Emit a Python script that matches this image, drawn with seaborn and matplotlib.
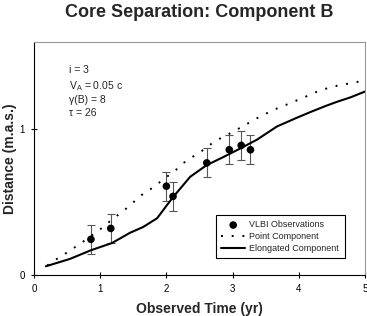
import numpy as np
import pandas as pd
import matplotlib
matplotlib.use('Agg')
import matplotlib.pyplot as plt
import seaborn as sns

# observations (yr, m.a.s.)
obs_time = [0.86, 1.16, 2.00, 2.10, 2.61, 2.95, 3.13, 3.27]
obs_dist = [0.245, 0.32, 0.61, 0.54, 0.77, 0.86, 0.89, 0.86]
obs_err = [0.1, 0.1, 0.1, 0.1, 0.1, 0.1, 0.1, 0.1]

# point component model
point_time = [0.2, 0.29, 0.42, 0.53, 0.65, 0.76, 0.99, 1.23, 1.34, 1.45, 1.68, 1.80,
              1.92, 2.14, 2.26, 2.39, 2.50, 2.72, 2.84, 2.95, 3.07, 3.42, 3.65, 3.87,
              4.13, 4.33, 4.58, 4.93, 5.0]
point_dist = [0.065, 0.096, 0.13, 0.165, 0.20, 0.235, 0.31, 0.40, 0.435, 0.48, 0.57, 0.60,
              0.645, 0.72, 0.77, 0.81, 0.84, 0.915, 0.945, 0.97, 1.0, 1.09, 1.14, 1.18,
              1.23, 1.27, 1.30, 1.33, 1.35]

# elongated component model
elong_time = [0.18, 0.54, 0.86, 1.18, 1.45, 1.65, 1.86, 2.0, 2.11, 2.36, 2.61, 2.86,
              3.12, 3.37, 3.67, 3.97, 4.18, 4.40, 4.58, 4.78, 5.0]
elong_dist = [0.06, 0.11, 0.17, 0.22, 0.29, 0.33, 0.39, 0.475, 0.54, 0.675, 0.755, 0.81,
              0.87, 0.93, 1.02, 1.08, 1.12, 1.16, 1.19, 1.22, 1.26]

sns.set_style('white')
plt.rcParams['font.family'] = ['Liberation Sans', 'DejaVu Sans']

fig = plt.figure(figsize=(3.67, 3.16), dpi=100)
ax = fig.add_axes([0.0926, 0.1297, 0.902, 0.7373])

obs = pd.DataFrame({'t': obs_time, 'd': obs_dist})
pt = pd.DataFrame({'t': point_time, 'd': point_dist})
el = pd.DataFrame({'t': elong_time, 'd': elong_dist})

ax.errorbar(obs_time, obs_dist, yerr=obs_err, fmt='none', ecolor='#555555',
            elinewidth=0.8, capsize=3, capthick=0.8, zorder=2)
sns.lineplot(data=pt, x='t', y='d', ax=ax, color='black', lw=1.4, sort=False,
             linestyle=(0, (1.0, 4.5)), label='Point Component', zorder=3)
sns.lineplot(data=el, x='t', y='d', ax=ax, color='black', lw=1.5, sort=False,
             label='Elongated Component', zorder=3)
sns.scatterplot(data=obs, x='t', y='d', ax=ax, color='black', s=30, edgecolor='none',
                label='VLBI Observations', zorder=4)

ax.set_xlim(0, 5)
ax.set_ylim(0, 1.6)
ax.set_xticks([0, 1, 2, 3, 4, 5])
ax.set_yticks([0, 1])
ax.tick_params(direction='inout', length=5, width=0.8, labelsize=7, colors='black',
               left=True, bottom=True, pad=4)
for s in ['left', 'bottom']:
    ax.spines[s].set_color('black')
    ax.spines[s].set_linewidth(0.8)
for s in ['top', 'right']:
    ax.spines[s].set_color('#999999')
    ax.spines[s].set_linewidth(0.8)

ax.set_xlabel('Observed Time (yr)', fontsize=10, fontweight='bold', labelpad=6)
ax.set_ylabel('Distance (m.a.s.)', fontsize=10, fontweight='bold')
ax.yaxis.set_label_coords(-0.05, 0.5)
ax.set_title('Core Separation: Component B', fontsize=13, fontweight='bold', pad=18)

ax.text(0.105, 0.9, 'i = 3\n$\\mathregular{V_A}$ = 0.05 c\n\u03b3(B) = 8\n\u03c4 = 26',
        transform=ax.transAxes, fontsize=7.5, va='top', ha='left', linespacing=1.35)

h, l = ax.get_legend_handles_labels()
order = [l.index('VLBI Observations'), l.index('Point Component'), l.index('Elongated Component')]
leg = ax.legend([h[i] for i in order], [l[i] for i in order], loc='lower left',
                bbox_to_anchor=(0.55, 0.072), borderaxespad=0, fontsize=6.5, frameon=True,
                fancybox=False, edgecolor='black', framealpha=1, borderpad=0.6,
                handlelength=2.6, handletextpad=0.5, labelspacing=0.3)
leg.get_frame().set_linewidth(0.8)

plt.savefig('out.png', dpi=100)
